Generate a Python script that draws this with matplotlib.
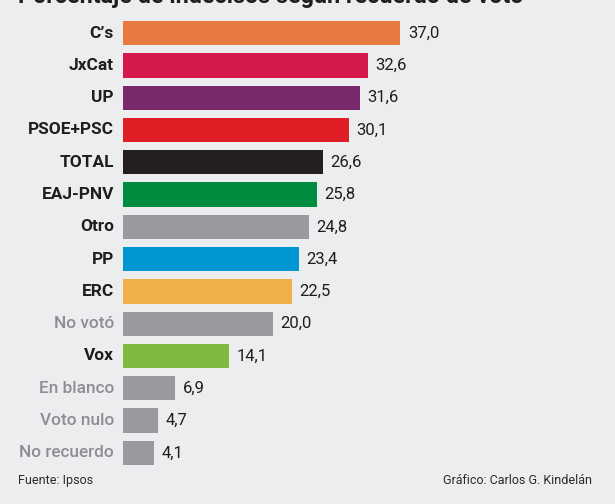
import matplotlib
matplotlib.use("Agg")
import matplotlib.pyplot as plt

categories = ["C’s", "JxCat", "UP", "PSOE+PSC", "TOTAL", "EAJ-PNV", "Otro", "PP", "ERC",
              "No votó", "Vox", "En blanco", "Voto nulo", "No recuerdo"]
values = [37.0, 32.6, 31.6, 30.1, 26.6, 25.8, 24.8, 23.4, 22.5, 20.0, 14.1, 6.9, 4.7, 4.1]
colors = ["#E87A41", "#D6194B", "#7B296D", "#E01E26", "#231F20", "#008C40", "#9A9A9E",
          "#0096D1", "#F0AF4A", "#9A9A9E", "#80B940", "#9A9A9E", "#9A9A9E", "#9A9A9E"]
muted = ["No votó", "En blanco", "Voto nulo", "No recuerdo"]

title = "Porcentaje de indecisos según recuerdo de voto"
source = "Fuente: Ipsos"
credit = "Gráfico: Carlos G. Kindelán"

plt.rcParams['font.family'] = ['Roboto', 'DejaVu Sans']
bg = "#ECEDEF"

fig = plt.figure(figsize=(6.15, 5.04), dpi=100, facecolor=bg)
ax = fig.add_axes([123/615, 35/504, 300/615, 452/504])
ax.set_facecolor(bg)

ypos = list(range(len(categories)))
ax.barh(ypos, values, height=0.75, color=colors)
ax.set_xlim(0, 40)
ax.set_ylim(len(categories) - 0.5, -0.5)
ax.axis('off')

for y, cat, v in zip(ypos, categories, values):
    is_muted = cat in muted
    ax.annotate(cat, xy=(0, y), xytext=(-6.5, 0), textcoords='offset points',
                ha='right', va='center', fontsize=12.4,
                fontweight='medium' if is_muted else 'bold',
                color="#8E8E92" if is_muted else "#1E1E1E")
    ax.annotate(f"{v:.1f}".replace('.', ','), xy=(v, y), xytext=(5.5, 0),
                textcoords='offset points', ha='left', va='center',
                fontsize=12, color="#1E1E1E")

fig.text(18/615, 1 - 2.5/504, title, ha='left', va='baseline', fontsize=16.8,
         fontweight='bold', color="#1E1E1E")
fig.text(18/615, 1 - 484/504, source, ha='left', va='baseline', fontsize=9, color="#2A2A2A")
fig.text(592/615, 1 - 484/504, credit, ha='right', va='baseline', fontsize=9, color="#2A2A2A")

fig.savefig("out.png", dpi=100, facecolor=bg)
